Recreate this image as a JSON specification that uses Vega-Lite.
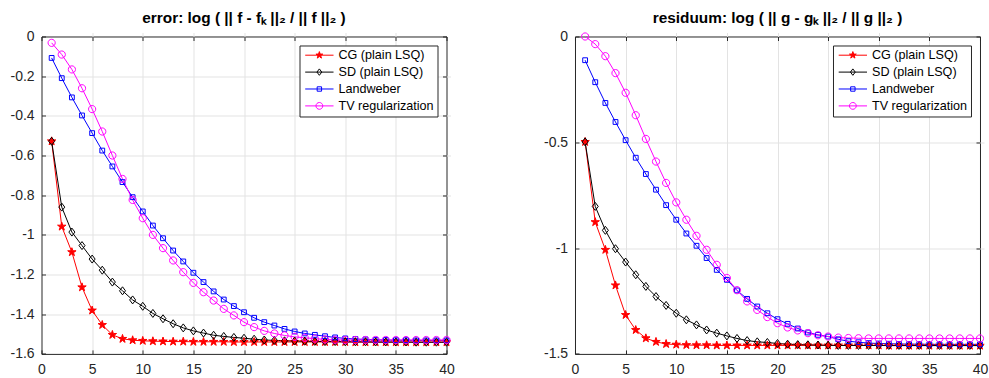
{
  "$schema": "https://vega.github.io/schema/vega-lite/v6.json",
  "background": "white",
  "padding": {"left": 8.5, "top": 9.5, "right": 5, "bottom": 5},
  "config": {
    "font": "Liberation Sans",
    "view": {"stroke": "#262626", "strokeWidth": 1},
    "axis": {
      "labelFont": "Liberation Sans",
      "labelFontSize": 14,
      "labelColor": "#262626",
      "tickColor": "#262626",
      "tickSize": 4,
      "offset": -4,
      "domain": false,
      "gridColor": "#e3e3e3",
      "gridWidth": 1,
      "labelPadding": 7.4,
      "labelFlush": false,
      "labelOverlap": false,
      "titlePadding": 0
    },
    "axisX": {"labelPadding": 9}
  },
  "datasets": {
    "err": [
      {"k":1,"s":"CG (plain LSQ)","v":-0.528},{"k":2,"s":"CG (plain LSQ)","v":-0.958},{"k":3,"s":"CG (plain LSQ)","v":-1.087},{"k":4,"s":"CG (plain LSQ)","v":-1.264},{"k":5,"s":"CG (plain LSQ)","v":-1.381},{"k":6,"s":"CG (plain LSQ)","v":-1.454},{"k":7,"s":"CG (plain LSQ)","v":-1.504},{"k":8,"s":"CG (plain LSQ)","v":-1.524},{"k":9,"s":"CG (plain LSQ)","v":-1.531},{"k":10,"s":"CG (plain LSQ)","v":-1.534},
      {"k":11,"s":"CG (plain LSQ)","v":-1.536},{"k":12,"s":"CG (plain LSQ)","v":-1.537},{"k":13,"s":"CG (plain LSQ)","v":-1.538},{"k":14,"s":"CG (plain LSQ)","v":-1.538},{"k":15,"s":"CG (plain LSQ)","v":-1.539},{"k":16,"s":"CG (plain LSQ)","v":-1.539},{"k":17,"s":"CG (plain LSQ)","v":-1.539},{"k":18,"s":"CG (plain LSQ)","v":-1.539},{"k":19,"s":"CG (plain LSQ)","v":-1.54},{"k":20,"s":"CG (plain LSQ)","v":-1.54},
      {"k":21,"s":"CG (plain LSQ)","v":-1.54},{"k":22,"s":"CG (plain LSQ)","v":-1.54},{"k":23,"s":"CG (plain LSQ)","v":-1.54},{"k":24,"s":"CG (plain LSQ)","v":-1.54},{"k":25,"s":"CG (plain LSQ)","v":-1.54},{"k":26,"s":"CG (plain LSQ)","v":-1.54},{"k":27,"s":"CG (plain LSQ)","v":-1.54},{"k":28,"s":"CG (plain LSQ)","v":-1.54},{"k":29,"s":"CG (plain LSQ)","v":-1.54},{"k":30,"s":"CG (plain LSQ)","v":-1.54},
      {"k":31,"s":"CG (plain LSQ)","v":-1.541},{"k":32,"s":"CG (plain LSQ)","v":-1.541},{"k":33,"s":"CG (plain LSQ)","v":-1.541},{"k":34,"s":"CG (plain LSQ)","v":-1.541},{"k":35,"s":"CG (plain LSQ)","v":-1.541},{"k":36,"s":"CG (plain LSQ)","v":-1.541},{"k":37,"s":"CG (plain LSQ)","v":-1.541},{"k":38,"s":"CG (plain LSQ)","v":-1.541},{"k":39,"s":"CG (plain LSQ)","v":-1.541},{"k":40,"s":"CG (plain LSQ)","v":-1.541},
      {"k":1,"s":"SD (plain LSQ)","v":-0.528},{"k":2,"s":"SD (plain LSQ)","v":-0.86},{"k":3,"s":"SD (plain LSQ)","v":-0.986},{"k":4,"s":"SD (plain LSQ)","v":-1.054},{"k":5,"s":"SD (plain LSQ)","v":-1.122},{"k":6,"s":"SD (plain LSQ)","v":-1.178},{"k":7,"s":"SD (plain LSQ)","v":-1.238},{"k":8,"s":"SD (plain LSQ)","v":-1.282},{"k":9,"s":"SD (plain LSQ)","v":-1.328},{"k":10,"s":"SD (plain LSQ)","v":-1.36},
      {"k":11,"s":"SD (plain LSQ)","v":-1.396},{"k":12,"s":"SD (plain LSQ)","v":-1.423},{"k":13,"s":"SD (plain LSQ)","v":-1.448},{"k":14,"s":"SD (plain LSQ)","v":-1.469},{"k":15,"s":"SD (plain LSQ)","v":-1.484},{"k":16,"s":"SD (plain LSQ)","v":-1.495},{"k":17,"s":"SD (plain LSQ)","v":-1.506},{"k":18,"s":"SD (plain LSQ)","v":-1.512},{"k":19,"s":"SD (plain LSQ)","v":-1.517},{"k":20,"s":"SD (plain LSQ)","v":-1.521},
      {"k":21,"s":"SD (plain LSQ)","v":-1.526},{"k":22,"s":"SD (plain LSQ)","v":-1.53},{"k":23,"s":"SD (plain LSQ)","v":-1.532},{"k":24,"s":"SD (plain LSQ)","v":-1.534},{"k":25,"s":"SD (plain LSQ)","v":-1.535},{"k":26,"s":"SD (plain LSQ)","v":-1.536},{"k":27,"s":"SD (plain LSQ)","v":-1.537},{"k":28,"s":"SD (plain LSQ)","v":-1.538},{"k":29,"s":"SD (plain LSQ)","v":-1.538},{"k":30,"s":"SD (plain LSQ)","v":-1.539},
      {"k":31,"s":"SD (plain LSQ)","v":-1.539},{"k":32,"s":"SD (plain LSQ)","v":-1.539},{"k":33,"s":"SD (plain LSQ)","v":-1.54},{"k":34,"s":"SD (plain LSQ)","v":-1.54},{"k":35,"s":"SD (plain LSQ)","v":-1.54},{"k":36,"s":"SD (plain LSQ)","v":-1.54},{"k":37,"s":"SD (plain LSQ)","v":-1.541},{"k":38,"s":"SD (plain LSQ)","v":-1.541},{"k":39,"s":"SD (plain LSQ)","v":-1.541},{"k":40,"s":"SD (plain LSQ)","v":-1.541},
      {"k":1,"s":"Landweber","v":-0.108},{"k":2,"s":"Landweber","v":-0.21},{"k":3,"s":"Landweber","v":-0.307},{"k":4,"s":"Landweber","v":-0.398},{"k":5,"s":"Landweber","v":-0.487},{"k":6,"s":"Landweber","v":-0.575},{"k":7,"s":"Landweber","v":-0.655},{"k":8,"s":"Landweber","v":-0.734},{"k":9,"s":"Landweber","v":-0.81},{"k":10,"s":"Landweber","v":-0.882},
      {"k":11,"s":"Landweber","v":-0.953},{"k":12,"s":"Landweber","v":-1.017},{"k":13,"s":"Landweber","v":-1.079},{"k":14,"s":"Landweber","v":-1.134},{"k":15,"s":"Landweber","v":-1.191},{"k":16,"s":"Landweber","v":-1.238},{"k":17,"s":"Landweber","v":-1.285},{"k":18,"s":"Landweber","v":-1.326},{"k":19,"s":"Landweber","v":-1.359},{"k":20,"s":"Landweber","v":-1.39},
      {"k":21,"s":"Landweber","v":-1.418},{"k":22,"s":"Landweber","v":-1.44},{"k":23,"s":"Landweber","v":-1.457},{"k":24,"s":"Landweber","v":-1.474},{"k":25,"s":"Landweber","v":-1.487},{"k":26,"s":"Landweber","v":-1.497},{"k":27,"s":"Landweber","v":-1.504},{"k":28,"s":"Landweber","v":-1.511},{"k":29,"s":"Landweber","v":-1.517},{"k":30,"s":"Landweber","v":-1.522},
      {"k":31,"s":"Landweber","v":-1.525},{"k":32,"s":"Landweber","v":-1.527},{"k":33,"s":"Landweber","v":-1.529},{"k":34,"s":"Landweber","v":-1.53},{"k":35,"s":"Landweber","v":-1.531},{"k":36,"s":"Landweber","v":-1.531},{"k":37,"s":"Landweber","v":-1.532},{"k":38,"s":"Landweber","v":-1.532},{"k":39,"s":"Landweber","v":-1.532},{"k":40,"s":"Landweber","v":-1.532},
      {"k":1,"s":"TV regularization","v":-0.032},{"k":2,"s":"TV regularization","v":-0.091},{"k":3,"s":"TV regularization","v":-0.166},{"k":4,"s":"TV regularization","v":-0.261},{"k":5,"s":"TV regularization","v":-0.366},{"k":6,"s":"TV regularization","v":-0.479},{"k":7,"s":"TV regularization","v":-0.6},{"k":8,"s":"TV regularization","v":-0.718},{"k":9,"s":"TV regularization","v":-0.824},{"k":10,"s":"TV regularization","v":-0.916},
      {"k":11,"s":"TV regularization","v":-1.0},{"k":12,"s":"TV regularization","v":-1.067},{"k":13,"s":"TV regularization","v":-1.129},{"k":14,"s":"TV regularization","v":-1.188},{"k":15,"s":"TV regularization","v":-1.242},{"k":16,"s":"TV regularization","v":-1.289},{"k":17,"s":"TV regularization","v":-1.331},{"k":18,"s":"TV regularization","v":-1.373},{"k":19,"s":"TV regularization","v":-1.406},{"k":20,"s":"TV regularization","v":-1.44},
      {"k":21,"s":"TV regularization","v":-1.465},{"k":22,"s":"TV regularization","v":-1.484},{"k":23,"s":"TV regularization","v":-1.497},{"k":24,"s":"TV regularization","v":-1.507},{"k":25,"s":"TV regularization","v":-1.514},{"k":26,"s":"TV regularization","v":-1.519},{"k":27,"s":"TV regularization","v":-1.523},{"k":28,"s":"TV regularization","v":-1.527},{"k":29,"s":"TV regularization","v":-1.529},{"k":30,"s":"TV regularization","v":-1.53},
      {"k":31,"s":"TV regularization","v":-1.53},{"k":32,"s":"TV regularization","v":-1.53},{"k":33,"s":"TV regularization","v":-1.53},{"k":34,"s":"TV regularization","v":-1.53},{"k":35,"s":"TV regularization","v":-1.53},{"k":36,"s":"TV regularization","v":-1.53},{"k":37,"s":"TV regularization","v":-1.53},{"k":38,"s":"TV regularization","v":-1.53},{"k":39,"s":"TV regularization","v":-1.53},{"k":40,"s":"TV regularization","v":-1.53}
    ],
    "res": [
      {"k":1,"s":"CG (plain LSQ)","v":-0.498},{"k":2,"s":"CG (plain LSQ)","v":-0.877},{"k":3,"s":"CG (plain LSQ)","v":-1.008},{"k":4,"s":"CG (plain LSQ)","v":-1.176},{"k":5,"s":"CG (plain LSQ)","v":-1.316},{"k":6,"s":"CG (plain LSQ)","v":-1.387},{"k":7,"s":"CG (plain LSQ)","v":-1.426},{"k":8,"s":"CG (plain LSQ)","v":-1.443},{"k":9,"s":"CG (plain LSQ)","v":-1.453},{"k":10,"s":"CG (plain LSQ)","v":-1.456},
      {"k":11,"s":"CG (plain LSQ)","v":-1.458},{"k":12,"s":"CG (plain LSQ)","v":-1.459},{"k":13,"s":"CG (plain LSQ)","v":-1.459},{"k":14,"s":"CG (plain LSQ)","v":-1.46},{"k":15,"s":"CG (plain LSQ)","v":-1.46},{"k":16,"s":"CG (plain LSQ)","v":-1.46},{"k":17,"s":"CG (plain LSQ)","v":-1.46},{"k":18,"s":"CG (plain LSQ)","v":-1.46},{"k":19,"s":"CG (plain LSQ)","v":-1.46},{"k":20,"s":"CG (plain LSQ)","v":-1.46},
      {"k":21,"s":"CG (plain LSQ)","v":-1.46},{"k":22,"s":"CG (plain LSQ)","v":-1.46},{"k":23,"s":"CG (plain LSQ)","v":-1.46},{"k":24,"s":"CG (plain LSQ)","v":-1.46},{"k":25,"s":"CG (plain LSQ)","v":-1.46},{"k":26,"s":"CG (plain LSQ)","v":-1.46},{"k":27,"s":"CG (plain LSQ)","v":-1.46},{"k":28,"s":"CG (plain LSQ)","v":-1.46},{"k":29,"s":"CG (plain LSQ)","v":-1.46},{"k":30,"s":"CG (plain LSQ)","v":-1.46},
      {"k":31,"s":"CG (plain LSQ)","v":-1.461},{"k":32,"s":"CG (plain LSQ)","v":-1.461},{"k":33,"s":"CG (plain LSQ)","v":-1.461},{"k":34,"s":"CG (plain LSQ)","v":-1.461},{"k":35,"s":"CG (plain LSQ)","v":-1.461},{"k":36,"s":"CG (plain LSQ)","v":-1.461},{"k":37,"s":"CG (plain LSQ)","v":-1.461},{"k":38,"s":"CG (plain LSQ)","v":-1.461},{"k":39,"s":"CG (plain LSQ)","v":-1.461},{"k":40,"s":"CG (plain LSQ)","v":-1.461},
      {"k":1,"s":"SD (plain LSQ)","v":-0.498},{"k":2,"s":"SD (plain LSQ)","v":-0.803},{"k":3,"s":"SD (plain LSQ)","v":-0.916},{"k":4,"s":"SD (plain LSQ)","v":-1.003},{"k":5,"s":"SD (plain LSQ)","v":-1.066},{"k":6,"s":"SD (plain LSQ)","v":-1.126},{"k":7,"s":"SD (plain LSQ)","v":-1.181},{"k":8,"s":"SD (plain LSQ)","v":-1.229},{"k":9,"s":"SD (plain LSQ)","v":-1.271},{"k":10,"s":"SD (plain LSQ)","v":-1.308},
      {"k":11,"s":"SD (plain LSQ)","v":-1.339},{"k":12,"s":"SD (plain LSQ)","v":-1.363},{"k":13,"s":"SD (plain LSQ)","v":-1.387},{"k":14,"s":"SD (plain LSQ)","v":-1.402},{"k":15,"s":"SD (plain LSQ)","v":-1.415},{"k":16,"s":"SD (plain LSQ)","v":-1.427},{"k":17,"s":"SD (plain LSQ)","v":-1.437},{"k":18,"s":"SD (plain LSQ)","v":-1.443},{"k":19,"s":"SD (plain LSQ)","v":-1.446},{"k":20,"s":"SD (plain LSQ)","v":-1.451},
      {"k":21,"s":"SD (plain LSQ)","v":-1.454},{"k":22,"s":"SD (plain LSQ)","v":-1.456},{"k":23,"s":"SD (plain LSQ)","v":-1.457},{"k":24,"s":"SD (plain LSQ)","v":-1.458},{"k":25,"s":"SD (plain LSQ)","v":-1.459},{"k":26,"s":"SD (plain LSQ)","v":-1.46},{"k":27,"s":"SD (plain LSQ)","v":-1.46},{"k":28,"s":"SD (plain LSQ)","v":-1.46},{"k":29,"s":"SD (plain LSQ)","v":-1.46},{"k":30,"s":"SD (plain LSQ)","v":-1.46},
      {"k":31,"s":"SD (plain LSQ)","v":-1.46},{"k":32,"s":"SD (plain LSQ)","v":-1.46},{"k":33,"s":"SD (plain LSQ)","v":-1.46},{"k":34,"s":"SD (plain LSQ)","v":-1.46},{"k":35,"s":"SD (plain LSQ)","v":-1.46},{"k":36,"s":"SD (plain LSQ)","v":-1.46},{"k":37,"s":"SD (plain LSQ)","v":-1.46},{"k":38,"s":"SD (plain LSQ)","v":-1.46},{"k":39,"s":"SD (plain LSQ)","v":-1.46},{"k":40,"s":"SD (plain LSQ)","v":-1.46},
      {"k":1,"s":"Landweber","v":-0.112},{"k":2,"s":"Landweber","v":-0.216},{"k":3,"s":"Landweber","v":-0.314},{"k":4,"s":"Landweber","v":-0.404},{"k":5,"s":"Landweber","v":-0.49},{"k":6,"s":"Landweber","v":-0.573},{"k":7,"s":"Landweber","v":-0.65},{"k":8,"s":"Landweber","v":-0.724},{"k":9,"s":"Landweber","v":-0.797},{"k":10,"s":"Landweber","v":-0.866},
      {"k":11,"s":"Landweber","v":-0.931},{"k":12,"s":"Landweber","v":-0.989},{"k":13,"s":"Landweber","v":-1.047},{"k":14,"s":"Landweber","v":-1.103},{"k":15,"s":"Landweber","v":-1.15},{"k":16,"s":"Landweber","v":-1.2},{"k":17,"s":"Landweber","v":-1.24},{"k":18,"s":"Landweber","v":-1.276},{"k":19,"s":"Landweber","v":-1.308},{"k":20,"s":"Landweber","v":-1.336},
      {"k":21,"s":"Landweber","v":-1.358},{"k":22,"s":"Landweber","v":-1.38},{"k":23,"s":"Landweber","v":-1.399},{"k":24,"s":"Landweber","v":-1.41},{"k":25,"s":"Landweber","v":-1.418},{"k":26,"s":"Landweber","v":-1.431},{"k":27,"s":"Landweber","v":-1.44},{"k":28,"s":"Landweber","v":-1.445},{"k":29,"s":"Landweber","v":-1.449},{"k":30,"s":"Landweber","v":-1.451},
      {"k":31,"s":"Landweber","v":-1.452},{"k":32,"s":"Landweber","v":-1.453},{"k":33,"s":"Landweber","v":-1.454},{"k":34,"s":"Landweber","v":-1.454},{"k":35,"s":"Landweber","v":-1.455},{"k":36,"s":"Landweber","v":-1.455},{"k":37,"s":"Landweber","v":-1.455},{"k":38,"s":"Landweber","v":-1.455},{"k":39,"s":"Landweber","v":-1.455},{"k":40,"s":"Landweber","v":-1.455},
      {"k":1,"s":"TV regularization","v":0.0},{"k":2,"s":"TV regularization","v":-0.036},{"k":3,"s":"TV regularization","v":-0.093},{"k":4,"s":"TV regularization","v":-0.173},{"k":5,"s":"TV regularization","v":-0.266},{"k":6,"s":"TV regularization","v":-0.372},{"k":7,"s":"TV regularization","v":-0.484},{"k":8,"s":"TV regularization","v":-0.591},{"k":9,"s":"TV regularization","v":-0.692},{"k":10,"s":"TV regularization","v":-0.784},
      {"k":11,"s":"TV regularization","v":-0.866},{"k":12,"s":"TV regularization","v":-0.942},{"k":13,"s":"TV regularization","v":-1.008},{"k":14,"s":"TV regularization","v":-1.079},{"k":15,"s":"TV regularization","v":-1.141},{"k":16,"s":"TV regularization","v":-1.199},{"k":17,"s":"TV regularization","v":-1.252},{"k":18,"s":"TV regularization","v":-1.292},{"k":19,"s":"TV regularization","v":-1.326},{"k":20,"s":"TV regularization","v":-1.355},
      {"k":21,"s":"TV regularization","v":-1.375},{"k":22,"s":"TV regularization","v":-1.389},{"k":23,"s":"TV regularization","v":-1.402},{"k":24,"s":"TV regularization","v":-1.412},{"k":25,"s":"TV regularization","v":-1.418},{"k":26,"s":"TV regularization","v":-1.423},{"k":27,"s":"TV regularization","v":-1.425},{"k":28,"s":"TV regularization","v":-1.426},{"k":29,"s":"TV regularization","v":-1.427},{"k":30,"s":"TV regularization","v":-1.427},
      {"k":31,"s":"TV regularization","v":-1.427},{"k":32,"s":"TV regularization","v":-1.427},{"k":33,"s":"TV regularization","v":-1.427},{"k":34,"s":"TV regularization","v":-1.427},{"k":35,"s":"TV regularization","v":-1.427},{"k":36,"s":"TV regularization","v":-1.427},{"k":37,"s":"TV regularization","v":-1.427},{"k":38,"s":"TV regularization","v":-1.427},{"k":39,"s":"TV regularization","v":-1.427},{"k":40,"s":"TV regularization","v":-1.427}
    ]
  },
  "spacing": 86.5,
  "resolve": {
    "scale": {"x": "independent", "y": "independent", "color": "independent"},
    "legend": {"color": "independent"},
    "axis": {"x": "independent", "y": "independent"}
  },
  "hconcat": [
    {
      "width": 405,
      "height": 317.4,
      "title": {"text": "error: log ( || f - fₖ ||₂ / || f ||₂ )", "font": "Liberation Sans", "fontSize": 15.4, "fontWeight": "bold", "color": "black", "anchor": "middle", "baseline": "alphabetic", "offset": -8.5},
      "data": {"name": "err"},
      "resolve": {"axis": {"x": "independent", "y": "independent"}},
      "layer": [
        {
          "mark": {"type": "line", "strokeWidth": 1},
          "encoding": {
            "x": {"field": "k", "type": "quantitative", "scale": {"domain": [0, 40], "nice": false, "zero": false},
                  "axis": {"title": null, "orient": "bottom", "values": [0, 5, 10, 15, 20, 25, 30, 35, 40], "grid": true,
                           "gridOpacity": {"condition": {"test": "datum.value === 0 || datum.value === 40", "value": 0}, "value": 1}}},
            "y": {"field": "v", "type": "quantitative", "scale": {"domain": [-1.6, 0], "nice": false, "zero": false},
                  "axis": {"title": null, "orient": "left", "values": [0, -0.2, -0.4, -0.6, -0.8, -1, -1.2, -1.4, -1.6], "grid": true, "labelExpr": "'' + datum.value",
                           "gridOpacity": {"condition": {"test": "datum.value === 0 || datum.value === -1.6", "value": 0}, "value": 1}}},
            "color": {"field": "s", "type": "nominal",
                      "scale": {"domain": ["CG (plain LSQ)", "SD (plain LSQ)", "Landweber", "TV regularization"], "range": ["#ff0000", "#000000", "#0000ff", "#ff00ff"]},
                      "legend": {"title": null, "orient": "top-right", "offset": 9, "padding": 3.4, "symbolOffset": 0, "labelOffset": 23, "rowPadding": 3.9,
                                 "labelFont": "Liberation Sans", "labelFontSize": 12.6, "labelColor": "black", "symbolSize": 64, "symbolStrokeWidth": 1, "strokeColor": "#262626", "fillColor": "white",
                                 "encode": {"symbols": {"update": {
                                   "shape": {"signal": "datum.value === 'CG (plain LSQ)' ? 'M-1,0H6.08M2.54,-0.9L2.742,-0.278L3.396,-0.278L2.867,0.106L3.069,0.728L2.54,0.344L2.011,0.728L2.213,0.106L1.684,-0.278L2.338,-0.278Z' : datum.value === 'SD (plain LSQ)' ? 'M-1,0H6.08M2.54,-0.8L3.14,0L2.54,0.8L1.94,0Z' : datum.value === 'Landweber' ? 'M-1,0H6.08M1.99,-0.55H3.09V0.55H1.99Z' : 'M-1,0H6.08M3.39,0A0.85,0.85 0 1,1 1.69,0A0.85,0.85 0 1,1 3.39,0Z'"},
                                   "fill": {"signal": "datum.value === 'CG (plain LSQ)' ? '#ff0000' : 'transparent'"},
                                   "strokeWidth": {"value": 1},
                                   "opacity": {"value": 1}
                                 }}}}}
          }
        },
        {
          "mark": {"type": "point", "opacity": 1, "strokeWidth": 1, "size": 64},
          "encoding": {
            "x": {"field": "k", "type": "quantitative", "scale": {"domain": [0, 40], "nice": false, "zero": false},
                  "axis": {"title": null, "orient": "top", "values": [0, 5, 10, 15, 20, 25, 30, 35, 40], "grid": false, "labels": false}},
            "y": {"field": "v", "type": "quantitative", "scale": {"domain": [-1.6, 0], "nice": false, "zero": false},
                  "axis": {"title": null, "orient": "right", "values": [0, -0.2, -0.4, -0.6, -0.8, -1, -1.2, -1.4, -1.6], "grid": false, "labels": false, "minExtent": 0, "maxExtent": 0}},
            "stroke": {"condition": [{"test": "datum.s === 'CG (plain LSQ)'", "value": "#ff0000"}, {"test": "datum.s === 'SD (plain LSQ)'", "value": "#000000"}, {"test": "datum.s === 'Landweber'", "value": "#0000ff"}], "value": "#ff00ff"},
            "fill": {"condition": [{"test": "datum.s === 'CG (plain LSQ)'", "value": "#ff0000"}], "value": "transparent"},
            "shape": {"condition": [
                        {"test": "datum.s === 'CG (plain LSQ)'", "value": "M0,-1.1L0.247,-0.34L1.046,-0.34L0.4,0.13L0.647,0.89L0,0.42L-0.647,0.89L-0.4,0.13L-1.046,-0.34L-0.247,-0.34Z"},
                        {"test": "datum.s === 'SD (plain LSQ)'", "value": "M0,-1L0.75,0L0,1L-0.75,0Z"},
                        {"test": "datum.s === 'Landweber'", "value": "M-0.6,-0.6H0.6V0.6H-0.6Z"}],
                      "value": "M0.9,0A0.9,0.9 0 1,1 -0.9,0A0.9,0.9 0 1,1 0.9,0Z"}
          }
        }
      ]
    },
    {
      "width": 405,
      "height": 317.4,
      "title": {"text": "residuum: log ( || g - gₖ ||₂ / || g ||₂ )", "font": "Liberation Sans", "fontSize": 15.4, "fontWeight": "bold", "color": "black", "anchor": "middle", "baseline": "alphabetic", "offset": -8.5},
      "data": {"name": "res"},
      "resolve": {"axis": {"x": "independent", "y": "independent"}},
      "layer": [
        {
          "mark": {"type": "line", "strokeWidth": 1},
          "encoding": {
            "x": {"field": "k", "type": "quantitative", "scale": {"domain": [0, 40], "nice": false, "zero": false},
                  "axis": {"title": null, "orient": "bottom", "values": [0, 5, 10, 15, 20, 25, 30, 35, 40], "grid": true,
                           "gridOpacity": {"condition": {"test": "datum.value === 0 || datum.value === 40", "value": 0}, "value": 1}}},
            "y": {"field": "v", "type": "quantitative", "scale": {"domain": [-1.5, 0], "nice": false, "zero": false},
                  "axis": {"title": null, "orient": "left", "values": [0, -0.5, -1, -1.5], "grid": true, "labelExpr": "'' + datum.value",
                           "gridOpacity": {"condition": {"test": "datum.value === 0 || datum.value === -1.5", "value": 0}, "value": 1}}},
            "color": {"field": "s", "type": "nominal",
                      "scale": {"domain": ["CG (plain LSQ)", "SD (plain LSQ)", "Landweber", "TV regularization"], "range": ["#ff0000", "#000000", "#0000ff", "#ff00ff"]},
                      "legend": {"title": null, "orient": "top-right", "offset": 9, "padding": 3.4, "symbolOffset": 0, "labelOffset": 23, "rowPadding": 3.9,
                                 "labelFont": "Liberation Sans", "labelFontSize": 12.6, "labelColor": "black", "symbolSize": 64, "symbolStrokeWidth": 1, "strokeColor": "#262626", "fillColor": "white",
                                 "encode": {"symbols": {"update": {
                                   "shape": {"signal": "datum.value === 'CG (plain LSQ)' ? 'M-1,0H6.08M2.54,-0.9L2.742,-0.278L3.396,-0.278L2.867,0.106L3.069,0.728L2.54,0.344L2.011,0.728L2.213,0.106L1.684,-0.278L2.338,-0.278Z' : datum.value === 'SD (plain LSQ)' ? 'M-1,0H6.08M2.54,-0.8L3.14,0L2.54,0.8L1.94,0Z' : datum.value === 'Landweber' ? 'M-1,0H6.08M1.99,-0.55H3.09V0.55H1.99Z' : 'M-1,0H6.08M3.39,0A0.85,0.85 0 1,1 1.69,0A0.85,0.85 0 1,1 3.39,0Z'"},
                                   "fill": {"signal": "datum.value === 'CG (plain LSQ)' ? '#ff0000' : 'transparent'"},
                                   "strokeWidth": {"value": 1},
                                   "opacity": {"value": 1}
                                 }}}}}
          }
        },
        {
          "mark": {"type": "point", "opacity": 1, "strokeWidth": 1, "size": 64},
          "encoding": {
            "x": {"field": "k", "type": "quantitative", "scale": {"domain": [0, 40], "nice": false, "zero": false},
                  "axis": {"title": null, "orient": "top", "values": [0, 5, 10, 15, 20, 25, 30, 35, 40], "grid": false, "labels": false}},
            "y": {"field": "v", "type": "quantitative", "scale": {"domain": [-1.5, 0], "nice": false, "zero": false},
                  "axis": {"title": null, "orient": "right", "values": [0, -0.5, -1, -1.5], "grid": false, "labels": false, "minExtent": 0, "maxExtent": 0}},
            "stroke": {"condition": [{"test": "datum.s === 'CG (plain LSQ)'", "value": "#ff0000"}, {"test": "datum.s === 'SD (plain LSQ)'", "value": "#000000"}, {"test": "datum.s === 'Landweber'", "value": "#0000ff"}], "value": "#ff00ff"},
            "fill": {"condition": [{"test": "datum.s === 'CG (plain LSQ)'", "value": "#ff0000"}], "value": "transparent"},
            "shape": {"condition": [
                        {"test": "datum.s === 'CG (plain LSQ)'", "value": "M0,-1.1L0.247,-0.34L1.046,-0.34L0.4,0.13L0.647,0.89L0,0.42L-0.647,0.89L-0.4,0.13L-1.046,-0.34L-0.247,-0.34Z"},
                        {"test": "datum.s === 'SD (plain LSQ)'", "value": "M0,-1L0.75,0L0,1L-0.75,0Z"},
                        {"test": "datum.s === 'Landweber'", "value": "M-0.6,-0.6H0.6V0.6H-0.6Z"}],
                      "value": "M0.9,0A0.9,0.9 0 1,1 -0.9,0A0.9,0.9 0 1,1 0.9,0Z"}
          }
        }
      ]
    }
  ]
}
